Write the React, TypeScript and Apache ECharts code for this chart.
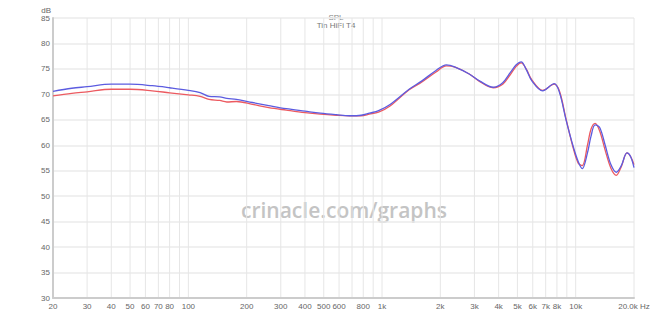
import React, { useEffect, useRef } from "react";
import * as echarts from "echarts";

const freqs = [
  20, 25, 30, 40, 50, 65, 80, 100, 115, 128, 145, 158, 177, 214, 260, 320, 400, 480, 580, 680, 780, 860, 960,
  1100, 1380, 1600, 1900, 2150, 2400, 2820, 3200, 3750, 4200, 4600, 4930, 5230, 5550, 5950, 6750, 7750, 8250,
  8900, 9700, 10300, 10800, 11500, 12000, 12600, 13300, 14200, 15200, 16200, 17200, 18400, 19200, 20000,
];

const blueValues = [
  70.6, 71.2, 71.5, 72.0, 72.0, 71.7, 71.3, 70.8, 70.35, 69.6, 69.5, 69.2, 69.0, 68.4, 67.8, 67.2, 66.7, 66.3,
  66.0, 65.8, 65.9, 66.3, 66.8, 68.0, 71.0, 72.6, 74.7, 75.8, 75.3, 74.0, 72.6, 71.4, 72.3, 74.3, 75.8, 76.4,
  74.9, 72.6, 70.7, 72.1, 70.35, 65.1, 59.8, 56.8, 55.4, 58.5, 61.8, 64.0, 63.5, 60.0, 56.2, 54.7, 56.0, 58.5,
  57.8, 55.6,
];

const redValues = [
  69.7, 70.2, 70.5, 71.0, 71.0, 70.7, 70.3, 69.9, 69.6, 69.0, 68.8, 68.5, 68.6, 68.05, 67.4, 66.9, 66.4, 66.1,
  65.9, 65.8, 65.8, 66.1, 66.5, 67.7, 70.9, 72.4, 74.4, 75.6, 75.3, 74.0, 72.5, 71.3, 72.0, 73.9, 75.5, 76.2,
  75.0, 72.8, 70.8, 72.0, 70.6, 65.3, 59.5, 56.5, 56.0, 60.0, 63.2, 64.3, 62.8, 59.0, 55.5, 54.1, 55.8, 58.5,
  57.8, 56.2,
];

const gridFreqs = [
  20, 30, 40, 50, 60, 70, 80, 90, 100, 200, 300, 400, 500, 600, 700, 800, 900, 1000, 2000, 3000, 4000, 5000,
  6000, 7000, 8000, 9000, 10000, 20000,
];

const tickFreqs = [
  20, 30, 40, 50, 60, 70, 80, 100, 200, 300, 400, 500, 600, 800, 1000, 2000, 3000, 4000, 5000, 6000, 7000, 8000,
  10000, 20000,
];
const tickLabels = [
  "20", "30", "40", "50", "60", "70", "80", "100", "200", "300", "400", "500", "600", "800", "1k", "2k", "3k",
  "4k", "5k", "6k", "7k", "8k", "10k", "20.0k Hz",
];

const Y_MIN = 30;
const Y_MAX = 85;

export default function App() {
  const ref = useRef<HTMLDivElement>(null);
  useEffect(() => {
    if (!ref.current) return;
    const chart = echarts.init(ref.current, undefined, { renderer: "svg" });
    const labelMap: Record<number, string> = {};
    tickFreqs.forEach((f, i) => {
      labelMap[f] = tickLabels[i];
    });
    const font = "Liberation Sans, Arial, sans-serif";
    const labelFont = { fontSize: 8, color: "#666", fontFamily: font };
    chart.setOption({
      animation: false,
      backgroundColor: "#fff",
      grid: { left: 53, right: 38, top: 18, bottom: 22, containLabel: false },
      xAxis: {
        type: "value",
        min: Math.log10(20),
        max: Math.log10(20000),
        axisLine: { show: true, lineStyle: { color: "#ccc", width: 2 } },
        axisTick: { show: false },
        splitLine: { show: false },
        axisLabel: {
          ...labelFont,
          margin: 4,
          customValues: tickFreqs.map((f) => Math.log10(f)),
          showMinLabel: true,
          showMaxLabel: true,
          hideOverlap: false,
          formatter: (v: number) => labelMap[Math.round(Math.pow(10, v))] ?? "",
        },
      },
      yAxis: {
        type: "value",
        min: Y_MIN,
        max: Y_MAX,
        interval: 5,
        axisLine: { show: true, lineStyle: { color: "#ccc", width: 2 } },
        axisTick: { show: false },
        splitLine: { show: true, lineStyle: { color: "#ebebeb", width: 1.5 } },
        axisLabel: { ...labelFont, margin: 3 },
      },
      graphic: [
        { type: "text", x: 51, y: 10, style: { text: "dB", fontSize: 8, fill: "#666", align: "right", verticalAlign: "middle", fontFamily: font } },
        { type: "text", x: 336, y: 17, style: { text: "SPL", fontSize: 8, fill: "#888", align: "center", verticalAlign: "middle", fontFamily: font } },
        { type: "text", x: 336, y: 25, style: { text: "Tin HiFi T4", fontSize: 8, fill: "#777", align: "center", verticalAlign: "middle", fontFamily: font } },
        {
          type: "text",
          x: 344,
          y: 210,
          z: 0,
          style: {
            text: "crinacle.com/graphs",
            fontSize: 21,
            fontWeight: 600,
            fill: "#c4c4c4",
            align: "center",
            verticalAlign: "middle",
            fontFamily: "Open Sans, sans-serif",
          },
        },
      ],
      series: [
        {
          type: "custom",
          silent: true,
          z: 0,
          data: gridFreqs.map((f) => [Math.log10(f), Y_MIN]),
          renderItem: (_p: any, api: any) => {
            const a = api.coord([api.value(0), Y_MIN]);
            const b = api.coord([api.value(0), Y_MAX]);
            return {
              type: "line",
              shape: { x1: a[0], y1: a[1], x2: b[0], y2: b[1] },
              style: { stroke: "#e6e6e6", lineWidth: 1 },
            };
          },
        },
        {
          type: "line",
          name: "red",
          smooth: 0.35,
          showSymbol: false,
          symbol: "none",
          z: 3,
          lineStyle: { color: "#ec5a60", width: 1.3 },
          data: freqs.map((f, i) => [Math.log10(f), redValues[i]]),
        },
        {
          type: "line",
          name: "blue",
          smooth: 0.35,
          showSymbol: false,
          symbol: "none",
          z: 4,
          lineStyle: { color: "#5c5ce0", width: 1.3 },
          data: freqs.map((f, i) => [Math.log10(f), blueValues[i]]),
        },
      ],
    });
    return () => chart.dispose();
  }, []);
  return <div ref={ref} style={{ width: 672, height: 320, position: "absolute", left: 0, top: 0 }} />;
}
